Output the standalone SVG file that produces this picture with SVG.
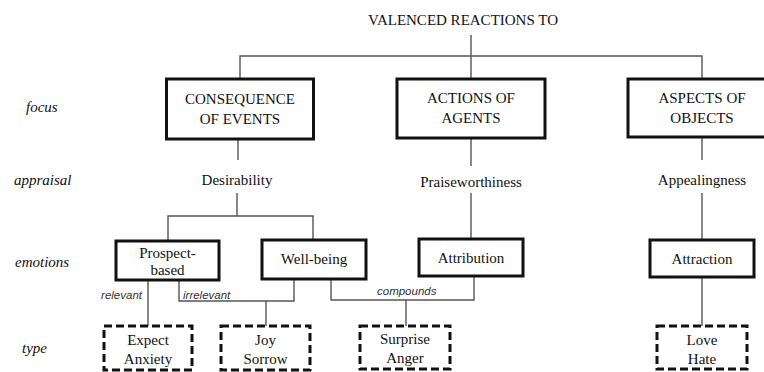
<svg xmlns="http://www.w3.org/2000/svg" width="764" height="372" viewBox="0 0 764 372">
<style>
  text { font-family: "Liberation Serif", "DejaVu Serif", "Times New Roman", serif; }
  .t { font-size: 15px; fill: #111; text-anchor: middle; }
  .row { font-size: 15px; font-style: italic; fill: #111; }
  .lbl { font-family: "Liberation Sans", Arial, sans-serif; font-size: 11.5px; font-style: italic; fill: #333; }
  .box { fill: #fff; stroke: #111; stroke-width: 3; }
  .dbox { fill: #fff; stroke: #111; stroke-width: 3; stroke-dasharray: 8 4; }
  .ln { fill: none; stroke: #555; stroke-width: 1.4; }
</style>
<rect width="764" height="372" fill="#fff"/>

<g id="row-labels">
  <text class="row" x="26" y="112">focus</text>
  <text class="row" x="14" y="185">appraisal</text>
  <text class="row" x="15" y="267">emotions</text>
  <text class="row" x="22" y="353">type</text>
</g>

<g id="connectors">
  <path class="ln" d="M471 35 V56 M240 79 V56 H702 V79 M471 56 V79"/>
  <path class="ln" d="M238 139 V160 M471 138 V166 M702 137 V160"/>
  <path class="ln" d="M237 193 V216 M168 241 V216 H313 V240"/>
  <path class="ln" d="M471 193 V239 M702 193 V240"/>
  <path class="ln" d="M148 280 V326"/>
  <path class="ln" d="M179 280 V301 H294 V279 M266 301 V326"/>
  <path class="ln" d="M331 279 V300 H474 V276 M406 300 V326"/>
  <path class="ln" d="M702 277 V326"/>
  <text class="lbl" x="142" y="299" text-anchor="end">relevant</text>
  <text class="lbl" x="183" y="299">irrelevant</text>
  <text class="lbl" x="377" y="295">compounds</text>
</g>

<g id="title"><text class="t" x="463" y="25">VALENCED REACTIONS TO</text></g>

<g id="consequence">
  <rect class="box" x="166.5" y="79" width="147" height="60"/>
  <text class="t" x="240" y="104">CONSEQUENCE</text>
  <text class="t" x="240" y="124">OF EVENTS</text>
</g>
<g id="actions">
  <rect class="box" x="397" y="79" width="148" height="59"/>
  <text class="t" x="471" y="103">ACTIONS OF</text>
  <text class="t" x="471" y="123">AGENTS</text>
</g>
<g id="aspects">
  <rect class="box" x="628" y="79" width="148" height="58"/>
  <text class="t" x="702" y="103">ASPECTS OF</text>
  <text class="t" x="702" y="123">OBJECTS</text>
</g>

<g id="desirability"><text class="t" x="237" y="185">Desirability</text></g>
<g id="praiseworthiness"><text class="t" x="471" y="187">Praiseworthiness</text></g>
<g id="appealingness"><text class="t" x="702" y="185">Appealingness</text></g>

<g id="prospect">
  <rect class="box" x="116" y="241" width="103" height="39"/>
  <text class="t" x="167.5" y="258">Prospect-</text>
  <text class="t" x="167.5" y="275">based</text>
</g>
<g id="wellbeing">
  <rect class="box" x="262" y="240" width="104" height="39"/>
  <text class="t" x="314" y="264">Well-being</text>
</g>
<g id="attribution">
  <rect class="box" x="419" y="239" width="104" height="37"/>
  <text class="t" x="471" y="263">Attribution</text>
</g>
<g id="attraction">
  <rect class="box" x="650" y="240" width="104" height="37"/>
  <text class="t" x="702" y="264">Attraction</text>
</g>

<g id="expect">
  <rect class="dbox" x="104" y="326" width="88" height="44"/>
  <text class="t" x="148" y="345">Expect</text>
  <text class="t" x="148" y="364">Anxiety</text>
</g>
<g id="joy">
  <rect class="dbox" x="221" y="326" width="89" height="44"/>
  <text class="t" x="265.5" y="345">Joy</text>
  <text class="t" x="265.5" y="364">Sorrow</text>
</g>
<g id="surprise">
  <rect class="dbox" x="360" y="326" width="90" height="43"/>
  <text class="t" x="405" y="344">Surprise</text>
  <text class="t" x="405" y="363">Anger</text>
</g>
<g id="love">
  <rect class="dbox" x="657" y="326" width="90" height="43"/>
  <text class="t" x="702" y="345">Love</text>
  <text class="t" x="702" y="364">Hate</text>
</g>
</svg>
